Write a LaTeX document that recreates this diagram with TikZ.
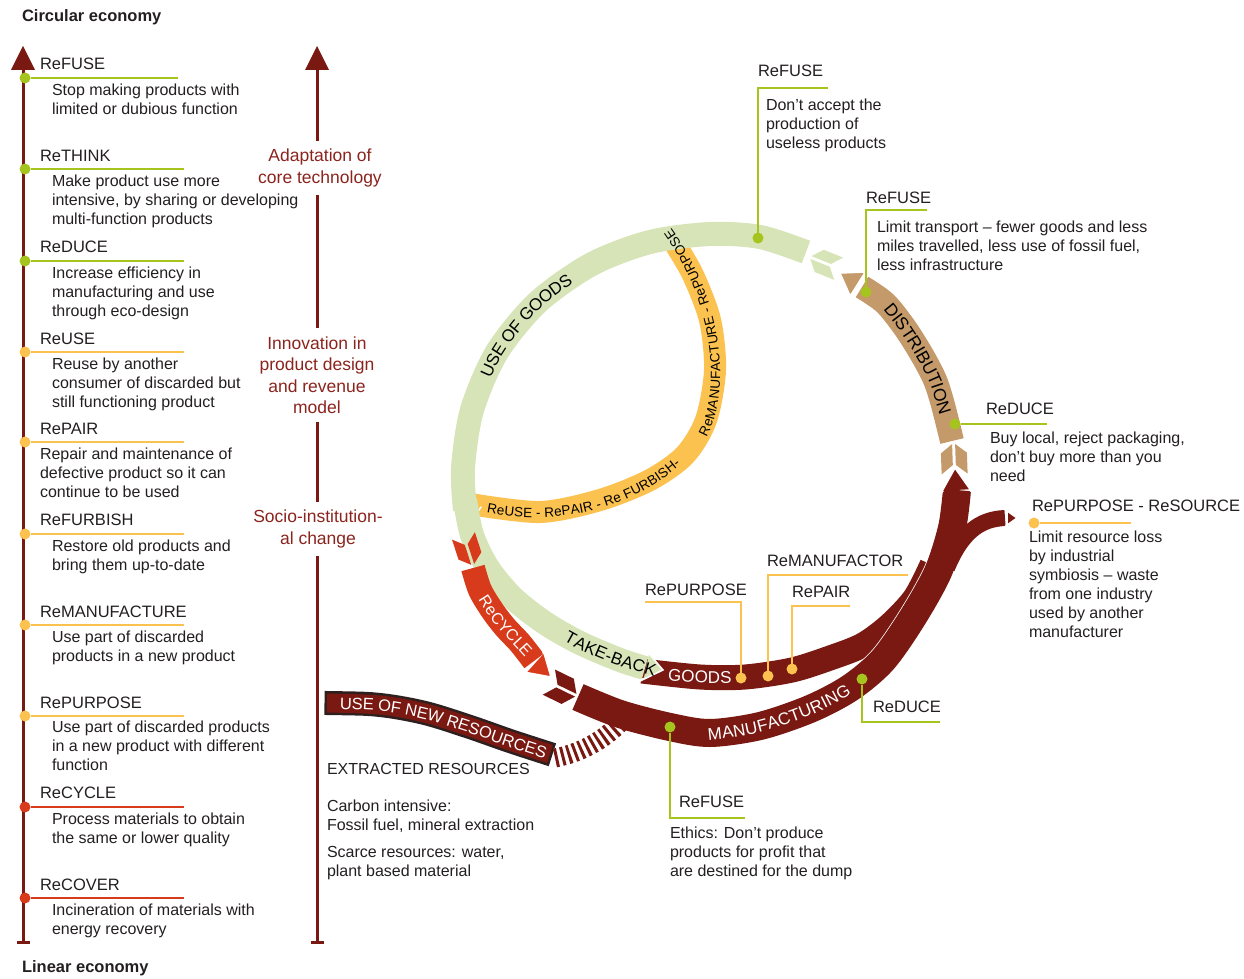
\documentclass[tikz,border=0pt]{standalone}
\usepackage{fontspec}
\setmainfont{Liberation Sans}
\usetikzlibrary{calc,decorations.text,positioning}

\definecolor{ink}{RGB}{35,31,32}
\definecolor{dred}{RGB}{122,24,18}
\definecolor{labred}{RGB}{140,36,30}
\definecolor{lime}{RGB}{166,196,30}
\definecolor{lgreen}{RGB}{215,228,183}
\definecolor{ochre}{RGB}{251,194,80}
\definecolor{rust}{RGB}{216,58,28}
\definecolor{sand}{RGB}{196,154,106}
\definecolor{edge}{RGB}{45,32,30}

\newcommand\headfont{\fontsize{16.5}{19}\selectfont}
\newcommand\bodyfont{\fontsize{16}{19}\selectfont}
\newcommand\bandfont{\fontsize{17}{19}\selectfont}
\newcommand\loopfont{\fontsize{13.5}{16}\selectfont}
\newcommand\labfont{\fontsize{17.5}{21.5}\selectfont}

% head of a band: x, y, angle, colour, half width, length, band half width
\newcommand\bandtip[7]{%
  \fill[#4, shift={(#1,#2)}, rotate=#3] (0,0) -- (-#6,#5) -- (-#6+5,#7) -- (-#6+5,-#7) -- (-#6,-#5) -- cycle;
  \draw[white, line width=1.5pt, shift={(#1,#2)}, rotate=#3] (-#6+5,#7) -- (-#6,#5) -- (0,0) -- (-#6,-#5) -- (-#6+5,-#7);}

% split tail of a band: x, y, angle, colour, band half width
\newcommand\bandtail[5]{%
  \fill[#4, shift={(#1,#2)}, rotate=#3] (12,1.5) -- (3,#5) -- (-18,#5) -- (-9,1.5) -- cycle
    (12,-1.5) -- (3,-#5) -- (-18,-#5) -- (-9,-1.5) -- cycle;}

\begin{document}
\begin{tikzpicture}[x=1pt, y=-1pt, every node/.style={inner sep=0pt, outer sep=0pt, text=ink}]

\useasboundingbox (0,0) rectangle (1244,979);

\tikzstyle{rhead}=[anchor=west, font=\headfont]
\tikzstyle{rtext}=[anchor=north west, align=left, font=\bodyfont]
\tikzstyle{dot}=[circle, minimum size=11pt, inner sep=0pt, draw=none]
\tikzstyle{leader}=[line width=2.5pt]
\tikzstyle{axisline}=[dred, line width=3pt]
\tikzstyle{axislab}=[fill=white, text=labred, align=center, font=\labfont, inner xsep=3pt, inner ysep=8pt]
\tikzstyle{band}=[line width=24pt, line cap=butt]
\tikzstyle{bandtext}=[decorate, decoration={text along path, text align=center, raise=-6pt}]

%%%%%%%%%%%%%%%%%%%%%%%%%%%%%%%%%%%%%%%%%%%%%%%%%%%%%%%%%%%%%%
%
%       Axes
%
\node (circ) [anchor=west, font=\headfont\bfseries] at (22,17) {Circular economy};
\node (lin)  [anchor=west, font=\headfont\bfseries] at (22,968) {Linear economy};

\coordinate (LA0) at (23,942);
\coordinate (LA1) at (23,68);
\draw[axisline] (LA0) -- (LA1);
\fill[dred] (11,70) -- (23,46) -- (35,70) -- cycle;
\draw[axisline] (17,942) -- (30,942);

\coordinate (RA0) at (317,942);
\coordinate (RA1) at (317,68);
\draw[axisline] (RA0) -- (RA1);
\fill[dred] (305,70) -- (317,46) -- (329,70) -- cycle;
\draw[axisline] (311,942) -- (324,942);

\node (adapt) [axislab] at (320,168) {Adaptation of\\core technology};
\node (innov) [axislab] at (317,375) {Innovation in\\product design\\and revenue\\model};
\node (socio) [axislab] at (318,529) {Socio-institution-\\al change};

%%%%%%%%%%%%%%%%%%%%%%%%%%%%%%%%%%%%%%%%%%%%%%%%%%%%%%%%%%%%%%
%
%       The ten R's
%
% ReFUSE
\coordinate (eRefuse) at (178,78);
\node (dRefuse) [dot, fill=lime] at (25,78) {};
\draw[leader, lime] (dRefuse) -- (eRefuse);
\node (hRefuse) [rhead] at (40,64) {ReFUSE};
\node (tRefuse) [rtext] at (52,84) {Stop making products with\\limited or dubious function};
% ReTHINK
\coordinate (eRethink) at (184,169);
\node (dRethink) [dot, fill=lime] at (25,169) {};
\draw[leader, lime] (dRethink) -- (eRethink);
\node (hRethink) [rhead] at (40,156) {ReTHINK};
\node (tRethink) [rtext] at (52,175) {Make product use more\\intensive, by sharing or developing\\multi-function products};
% ReDUCE
\coordinate (eReduce) at (184,261);
\node (dReduce) [dot, fill=lime] at (25,261) {};
\draw[leader, lime] (dReduce) -- (eReduce);
\node (hReduce) [rhead] at (40,247) {ReDUCE};
\node (tReduce) [rtext] at (52,267) {Increase efficiency in\\manufacturing and use\\through eco-design};
% ReUSE
\coordinate (eReuse) at (184,352);
\node (dReuse) [dot, fill=ochre] at (25,352) {};
\draw[leader, ochre] (dReuse) -- (eReuse);
\node (hReuse) [rhead] at (40,339) {ReUSE};
\node (tReuse) [rtext] at (52,358) {Reuse by another\\consumer of discarded but\\still functioning product};
% RePAIR
\coordinate (eRepair) at (184,442);
\node (dRepair) [dot, fill=ochre] at (25,442) {};
\draw[leader, ochre] (dRepair) -- (eRepair);
\node (hRepair) [rhead] at (40,429) {RePAIR};
\node (tRepair) [rtext] at (40,448) {Repair and maintenance of\\defective product so it can\\continue to be used};
% ReFURBISH
\coordinate (eRefurb) at (184,534);
\node (dRefurb) [dot, fill=ochre] at (25,534) {};
\draw[leader, ochre] (dRefurb) -- (eRefurb);
\node (hRefurb) [rhead] at (40,520) {ReFURBISH};
\node (tRefurb) [rtext] at (52,540) {Restore old products and\\bring them up-to-date};
% ReMANUFACTURE
\coordinate (eReman) at (184,625);
\node (dReman) [dot, fill=ochre] at (25,625) {};
\draw[leader, ochre] (dReman) -- (eReman);
\node (hReman) [rhead] at (40,612) {ReMANUFACTURE};
\node (tReman) [rtext] at (52,631) {Use part of discarded\\products in a new product};
% RePURPOSE
\coordinate (eRepurp) at (184,716);
\node (dRepurp) [dot, fill=ochre] at (25,716) {};
\draw[leader, ochre] (dRepurp) -- (eRepurp);
\node (hRepurp) [rhead] at (40,703) {RePURPOSE};
\node (tRepurp) [rtext] at (52,721) {Use part of discarded products\\in a new product with different\\function};
% ReCYCLE
\coordinate (eRecycle) at (184,807);
\node (dRecycle) [dot, fill=rust] at (25,807) {};
\draw[leader, rust] (dRecycle) -- (eRecycle);
\node (hRecycle) [rhead] at (40,793) {ReCYCLE};
\node (tRecycle) [rtext] at (52,813) {Process materials to obtain\\the same or lower quality};
% ReCOVER
\coordinate (eRecover) at (184,898);
\node (dRecover) [dot, fill=rust] at (25,898) {};
\draw[leader, rust] (dRecover) -- (eRecover);
\node (hRecover) [rhead] at (40,885) {ReCOVER};
\node (tRecover) [rtext] at (52,904) {Incineration of materials with\\energy recovery};

%%%%%%%%%%%%%%%%%%%%%%%%%%%%%%%%%%%%%%%%%%%%%%%%%%%%%%%%%%%%%%
%
%       The loop
%
% inner loop
\draw[band, ochre, line width=22pt] plot[smooth] coordinates {(470,504) (540,512) (600,500) (650,480) (685,455) (706,420) (715,370) (710,320) (693,275) (675,244)};

% goods
\draw[band, dred, line width=25pt] plot[smooth] coordinates {(642,671) (700,677) (745,677) (792,670) (830,658) (863,645) (890,625) (915,598) (932,565)};

% manufacturing
\draw[band, white, line width=29.5pt] plot[smooth] coordinates {(578,697) (620,714) (670,727) (710,733) (760,726) (810,709) (850,688) (883,660) (913,617) (938,572) (952,528) (957,490)};
\draw[band, dred, line width=28pt] plot[smooth] coordinates {(578,697) (620,714) (670,727) (710,733) (760,726) (810,709) (850,688) (883,660) (913,617) (938,572) (952,528) (957,490)};
\draw[band, dred, line width=16pt] (947,568) .. controls (962,532) and (980,519) .. (1005,518);
\bandtip{1017}{518}{0}{dred}{10}{14}{8}
\bandtip{955}{468}{93}{dred}{17}{27}{13}
\bandtail{565}{690}{-26}{dred}{14}

% new resources
\draw[band, edge, line width=24pt, shorten <=-2.5pt, shorten >=-2.5pt] plot[smooth] coordinates {(327,703) (380,705) (425,713) (470,727) (510,741) (550,754)};
\draw[band, dred, line width=19pt] plot[smooth] coordinates {(327,703) (380,705) (425,713) (470,727) (510,741) (550,754)};
\draw[dred, line width=19pt, dash pattern=on 3pt off 3.5pt] (555,758) .. controls (580,753) and (603,741) .. (621,722);

% use of goods, take-back
\draw[band, lgreen] plot[smooth] coordinates {(806,252) (760,237) (710,234) (650,242) (592,264) (538,302) (497,352) (472,410) (463,468) (465,510)};
\bandtip{467}{528}{-85}{lgreen}{16}{20}{12}
\bandtail{822}{262}{158}{lgreen}{12}
\draw[band, lgreen] plot[smooth] coordinates {(465,500) (472,535) (488,568) (513,598) (545,623) (580,643) (620,660) (645,668)};
\bandtip{663}{670}{-12}{lgreen}{17}{22}{12}

% recycle
\bandtail{469}{553}{-72}{rust}{12}
\draw[band, rust] plot[smooth] coordinates {(473,568) (480,590) (492,610) (505,627) (520,643) (534,661)};
\bandtip{551}{677}{-42}{rust}{16}{26}{12}

% distribution
\bandtail{954}{456}{92}{sand}{13}
\draw[band, sand] plot[smooth] coordinates {(952,441) (943,405) (935,380) (922,355) (905,328) (885,303) (862,287)};
\bandtip{840}{273}{148}{sand}{17}{25}{12}

% band labels
\path[bandtext, decoration={text={|\bandfont|USE OF GOODS}}] plot[smooth] coordinates {(467,440) (472,410) (497,352) (538,302) (592,264) (630,248)};
\path[bandtext, decoration={text={|\loopfont|ReUSE - RePAIR - Re FURBISH-}, text align={left, left indent=16pt}, raise=-5pt}] (472,504) .. controls (530,520) and (630,520) .. (700,438);
\path[bandtext, decoration={text={|\loopfont| ReMANUFACTURE - RePURPOSE}, text align={left, left indent=0pt}, raise=-5pt}] (700,438) .. controls (725,400) and (725,300) .. (655,215);
\path[bandtext, decoration={text={|\bandfont|TAKE-BACK}}] plot[smooth] coordinates {(545,623) (580,643) (620,660) (665,673) (680,676)};
\path[bandtext, decoration={text={|\fontsize{16}{18}\selectfont\color{white}|ReCYCLE}}] plot[smooth] coordinates {(470,560) (480,590) (492,610) (505,627) (520,643) (540,665) (556,682)};
\path[bandtext, decoration={text={|\bandfont\color{white}|GOODS}}] plot[smooth] coordinates {(630,670) (650,672) (700,677) (750,676) (770,674)};
\path[bandtext, decoration={text={|\bandfont\color{white}|MANUFACTURING}, text align={left, left indent=28pt}}] plot[smooth] coordinates {(680,731) (710,734) (760,726) (810,709) (850,688) (880,662) (905,630)};
\path[bandtext, decoration={text={|\fontsize{17.5}{19}\selectfont|DISTRIBUTION}, text align={left, left indent=27pt}}] plot[smooth] coordinates {(866,290) (885,303) (905,328) (922,355) (935,380) (943,405) (952,436) (958,470)};
\path[bandtext, decoration={text={|\fontsize{16.5}{18}\selectfont\color{white}|USE OF NEW RESOURCES}, text align={left, left indent=13pt}}] plot[smooth] coordinates {(327,703) (380,705) (425,713) (470,727) (510,741) (550,754) (580,763) (610,770)};

%%%%%%%%%%%%%%%%%%%%%%%%%%%%%%%%%%%%%%%%%%%%%%%%%%%%%%%%%%%%%%
%
%       Call-outs
%
% ReFUSE on use of goods
\coordinate (eUse) at (828,88);
\node (dUse) [dot, fill=lime] at (758,238) {};
\draw[leader, lime] (dUse) |- (eUse);
\node (hUse) [rhead] at (758,71) {ReFUSE};
\node (tUse) [rtext] at (766,99) {Don’t accept the\\production of\\useless products};

% ReFUSE on distribution
\coordinate (eDist) at (927,210);
\node (dDist) [dot, fill=lime] at (866,292) {};
\draw[leader, lime] (dDist) |- (eDist);
\node (hDist) [rhead] at (866,198) {ReFUSE};
\node (tDist) [rtext] at (877,221) {Limit transport – fewer goods and less\\miles travelled, less use of fossil fuel,\\less infrastructure};

% ReDUCE on distribution
\coordinate (eBuy) at (1047,424);
\node (dBuy) [dot, fill=lime] at (955,424) {};
\draw[leader, lime] (dBuy) -- (eBuy);
\node (hBuy) [rhead] at (986,409) {ReDUCE};
\node (tBuy) [rtext] at (990,432) {Buy local, reject packaging,\\don’t buy more than you\\need};

% RePURPOSE - ReSOURCE
\coordinate (eRes) at (1131,523);
\node (dRes) [dot, fill=ochre] at (1034,523) {};
\draw[leader, ochre] (dRes) -- (eRes);
\node (hRes) [rhead] at (1032,506) {RePURPOSE - ReSOURCE};
\node (tRes) [rtext] at (1029,531) {Limit resource loss\\by industrial\\symbiosis – waste\\from one industry\\used by another\\manufacturer};

% goods
\coordinate (ePurp) at (645,602);
\node (dPurp) [dot, fill=ochre] at (741,678) {};
\draw[leader, ochre] (dPurp) |- (ePurp);
\node (hPurp) [rhead] at (645,590) {RePURPOSE};

\coordinate (eManu) at (908,575);
\node (dManu) [dot, fill=ochre] at (768,676) {};
\draw[leader, ochre] (dManu) |- (eManu);
\node (hManu) [rhead] at (767,561) {ReMANUFACTOR};

\coordinate (ePair) at (850,606);
\node (dPair) [dot, fill=ochre] at (792,669) {};
\draw[leader, ochre] (dPair) |- (ePair);
\node (hPair) [rhead] at (792,592) {RePAIR};

% manufacturing
\coordinate (eMred) at (940,722);
\node (dMred) [dot, fill=lime] at (862,679) {};
\draw[leader, lime] (dMred) |- (eMred);
\node (hMred) [rhead] at (873,707) {ReDUCE};

\coordinate (eMfuse) at (745,818);
\node (dMfuse) [dot, fill=lime] at (670,727) {};
\draw[leader, lime] (dMfuse) |- (eMfuse);
\node (hMfuse) [rhead] at (679,802) {ReFUSE};
\node (tMfuse) [rtext] at (670,827) {Ethics: Don’t produce\\products for profit that\\are destined for the dump};

% extracted resources
\node (ext)  [anchor=west, font=\bodyfont] at (327,769) {EXTRACTED RESOURCES};
\node (carb) [rtext] at (327,800) {Carbon intensive:\\Fossil fuel, mineral extraction};
\node (scar) [rtext] at (327,846) {Scarce resources: water,\\plant based material};

\end{tikzpicture}
\end{document}
